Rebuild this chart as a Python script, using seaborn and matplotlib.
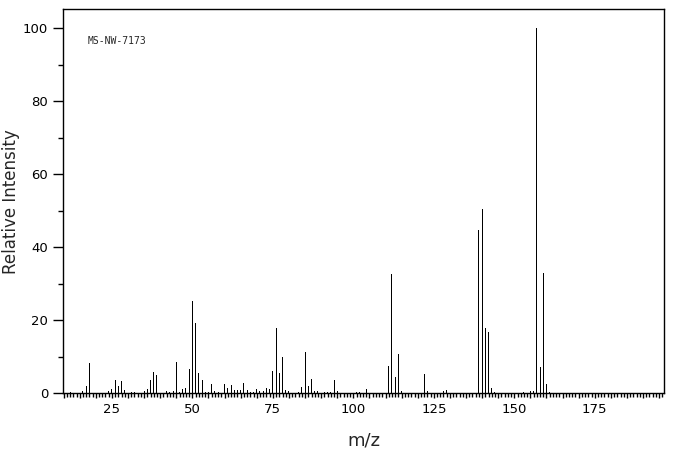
import matplotlib
matplotlib.use('Agg')
from matplotlib import pyplot as plt
from matplotlib.ticker import MultipleLocator
import pandas as pd
import seaborn as sns

# peaks
mz = [12, 16, 17, 18, 24, 25, 26, 27, 28, 29, 31, 32, 35, 36, 37, 38, 39,
      42, 43, 44, 45, 46, 47, 48, 49, 50, 51, 52, 53, 54, 55, 56, 57, 58,
      60, 61, 62, 63, 64, 65, 66, 67, 68, 69, 70, 71, 72, 73, 74, 75, 76,
      77, 78, 79, 80, 83, 84, 85, 86, 87, 88, 89, 91, 92, 93, 94, 95, 101,
      102, 104, 111, 112, 113, 114, 115, 122, 123, 128, 129, 139, 140, 141,
      142, 143, 144, 153, 155, 156, 157, 158, 159, 160, 161]
intensity = [0.4, 0.5, 2.0, 8.3, 0.5, 1.2, 3.6, 2.0, 3.4, 0.9, 0.3, 0.4, 0.6,
             1.2, 3.6, 5.8, 5.0, 0.6, 0.4, 0.6, 8.6, 0.4, 1.2, 1.5, 6.7, 25.3,
             19.3, 5.6, 3.7, 0.4, 0.4, 2.6, 0.6, 0.4, 2.6, 1.5, 2.3, 0.9, 0.9,
             0.9, 2.8, 0.9, 0.4, 0.4, 1.2, 0.6, 0.6, 1.5, 1.2, 6.1, 17.9, 5.6,
             9.9, 0.9, 0.6, 0.4, 1.7, 11.3, 2.0, 3.9, 0.6, 0.6, 0.4, 0.4, 0.4,
             3.6, 0.7, 0.4, 0.4, 1.3, 7.6, 32.6, 4.6, 10.9, 0.7, 5.3, 0.7, 0.7,
             1.0, 44.6, 50.6, 17.9, 16.8, 1.5, 0.4, 0.4, 0.5, 0.6, 100.0, 7.2,
             32.9, 2.6, 0.4]

df = pd.DataFrame({'m/z': mz, 'Relative Intensity': intensity})

sns.set_style('white')
plt.rcParams['font.family'] = ['DejaVu Sans']

xmin, xmax = 9.8, 196.5
fig = plt.figure(figsize=(6.76, 4.55), dpi=100)
ax = fig.add_axes([0.0932, 0.1356, 0.889, 0.844])

# one pixel wide sticks
px_per_unit = 100 * 6.76 * 0.889 / (xmax - xmin)
sns.barplot(data=df, x='m/z', y='Relative Intensity', native_scale=True,
            width=1.0 / px_per_unit, color='black', saturation=1, linewidth=0,
            errorbar=None, ax=ax)
for p in ax.patches:
    p.set_antialiased(False)

ax.set_xlim(xmin, xmax)
ax.set_ylim(0, 105.2)

# x ticks: long every 25, medium every 5, short every 1
xt = list(range(10, 196, 5))
ax.set_xticks(xt)
ax.set_xticklabels([str(v) if v % 25 == 0 else '' for v in xt])
ax.xaxis.set_minor_locator(MultipleLocator(1))
for v, tick in zip(xt, ax.xaxis.get_major_ticks()):
    tick.tick1line.set_markersize(7.2 if v % 25 == 0 else 5)

ax.set_yticks(range(0, 101, 20))
ax.yaxis.set_minor_locator(MultipleLocator(10))
ax.tick_params(axis='y', which='major', length=7.2)
ax.tick_params(axis='y', which='minor', length=3.6, width=1, color='black')
ax.tick_params(axis='x', which='minor', length=3, width=1, color='black')
ax.tick_params(axis='both', which='major', direction='out', width=1,
               colors='black', labelsize=9.5, pad=3.5)
ax.tick_params(axis='both', which='both', bottom=True, left=True,
               top=False, right=False)

for s in ax.spines.values():
    s.set_color('black')
    s.set_linewidth(1)

ax.set_xlabel('m/z', fontsize=13)
ax.set_ylabel('Relative Intensity', fontsize=12)
ax.xaxis.set_label_coords(0.5, -0.1)
ax.yaxis.set_label_coords(-0.072, 0.5)

ax.text(17.3, 96.5, 'MS-NW-7173', fontsize=7, family='DejaVu Sans Mono',
        va='center', ha='left')

fig.savefig('out.png', dpi=100)
